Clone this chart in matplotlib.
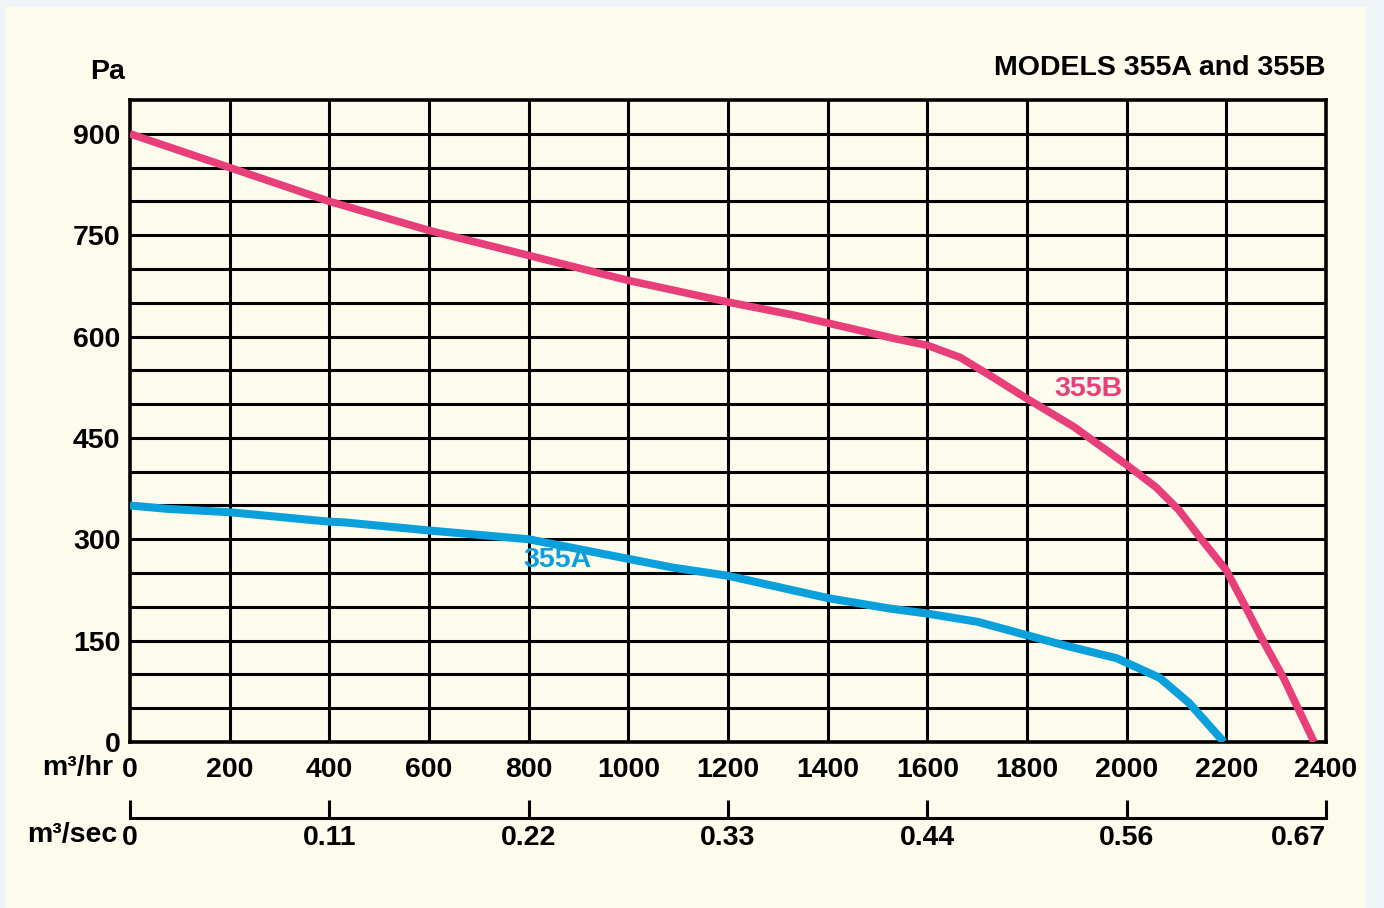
import matplotlib
matplotlib.use("Agg")
import matplotlib.pyplot as plt
from matplotlib.patches import Rectangle

plt.rcParams['font.family'] = ['Liberation Sans', 'DejaVu Sans']
plt.rcParams['font.weight'] = 'bold'

# curve data (m3/hr, Pa)
flow_b = [0, 200, 400, 600, 800, 1000, 1200, 1330, 1400, 1534, 1600, 1666,
          1731, 1800, 1895, 2000, 2059, 2105, 2151, 2200, 2235, 2275, 2314, 2376]
pa_b = [900, 850, 800, 757, 720, 683, 651, 632, 620, 597, 587, 569,
        540, 508, 466, 410, 377, 343, 299, 254, 205, 148, 96, 0]

flow_a = [0, 75, 200, 400, 430, 600, 800, 1000, 1090, 1200, 1400, 1520, 1600,
          1700, 1800, 1875, 1980, 2066, 2125, 2195]
pa_a = [350, 345, 340, 326, 325, 313, 300, 271, 258, 246, 213, 198, 190,
        178, 158, 143, 124, 95, 58, 0]

hr_ticks = [0, 200, 400, 600, 800, 1000, 1200, 1400, 1600, 1800, 2000, 2200, 2400]
pa_ticks = [0, 150, 300, 450, 600, 750, 900]
# m3/sec ticks sit at every 400 m3/hr
sec_hr = [0, 400, 800, 1200, 1600, 2000, 2400]
sec_labels = ['0', '0.11', '0.22', '0.33', '0.44', '0.56', '0.67']

pink = '#E83E7A'
blue = '#0AA0DC'
cream = '#FDFBEC'
fs = 20.5

fig = plt.figure(figsize=(13.84, 9.08), dpi=100)
fig.patch.set_facecolor('#EEF4F7')
fig.patches.append(Rectangle((5 / 1384, 0), 1361 / 1384, 901 / 908,
                             transform=fig.transFigure, facecolor=cream,
                             edgecolor='none', zorder=-10))

ax = fig.add_axes([130 / 1384, 166 / 908, 1196 / 1384, 642 / 908])
ax.set_facecolor(cream)
ax.set_xlim(0, 2400)
ax.set_ylim(0, 950)

# grid: every 200 m3/hr and every 50 Pa
for x in range(200, 2400, 200):
    ax.axvline(x, color='black', lw=2.2, zorder=1)
for y in range(50, 950, 50):
    ax.axhline(y, color='black', lw=2.2, zorder=1)
for s in ax.spines.values():
    s.set_linewidth(2.6)
    s.set_color('black')

ax.plot(flow_b, pa_b, color=pink, lw=5.5, solid_capstyle='butt', zorder=3)
ax.plot(flow_a, pa_a, color=blue, lw=5.8, solid_capstyle='butt', zorder=3)

ax.text(1924, 523, '355B', color=pink, fontsize=fs, ha='center', va='center', zorder=4)
ax.text(858, 270, '355A', color=blue, fontsize=fs, ha='center', va='center', zorder=4)

ax.set_xticks(hr_ticks)
ax.set_xticklabels([str(t) for t in hr_ticks])
ax.set_yticks(pa_ticks)
ax.set_yticklabels([str(t) for t in pa_ticks])
ax.tick_params(axis='both', length=0, labelsize=fs)
ax.tick_params(axis='x', pad=11)
ax.tick_params(axis='y', pad=7)

sec = ax.secondary_xaxis(-0.118, functions=(lambda v: v / 3600, lambda v: v * 3600))
sec.set_xticks([v / 3600 for v in sec_hr])
sec.set_xticklabels(sec_labels)
sec.tick_params(axis='x', direction='in', length=13, width=2.2, labelsize=fs, pad=5)
sec.spines['bottom'].set_linewidth(2.2)
sec.get_xticklabels()[-1].set_ha('right')

fig.text(113 / 1384, 1 - 768 / 908, 'm³/hr', fontsize=fs, ha='right', va='center')
fig.text(117 / 1384, 1 - 835 / 908, 'm³/sec', fontsize=fs, ha='right', va='center')
fig.text(108 / 1384, 1 - 72 / 908, 'Pa', fontsize=fs, ha='center', va='center')
fig.text(1325 / 1384, 1 - 68 / 908, 'MODELS 355A and 355B', fontsize=fs,
         ha='right', va='center')

fig.savefig('out.png', dpi=100, facecolor=fig.get_facecolor())
